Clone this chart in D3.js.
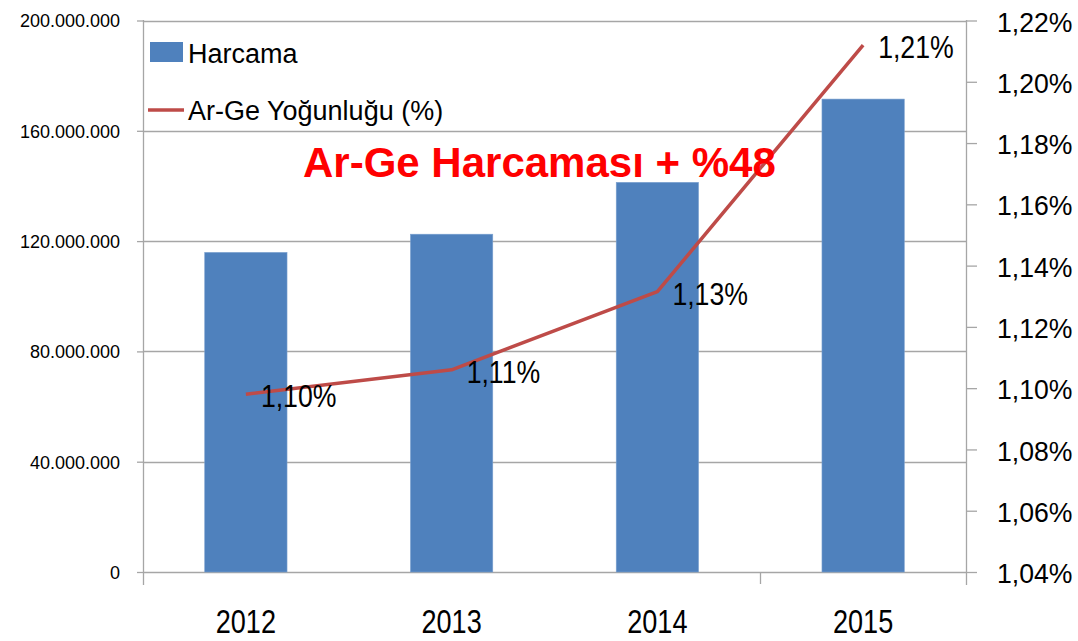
<!DOCTYPE html>
<html>
<head>
<meta charset="utf-8">
<script src="https://cdn.jsdelivr.net/npm/d3@7"></script>
<style>
  html, body { margin: 0; padding: 0; background: #ffffff; }
  svg { display: block; }
</style>
</head>
<body>
<svg id="chart" width="1078" height="641"></svg>
<script>
// ---- data ----
const years = ["2012", "2013", "2014", "2015"];
const harcama = [115900000, 122500000, 141300000, 171500000];
const yogunluk = [1.098, 1.106, 1.1315, 1.212];
const leftTicks = [0, 40000000, 80000000, 120000000, 160000000, 200000000];
const rightTicks = [1.04, 1.06, 1.08, 1.10, 1.12, 1.14, 1.16, 1.18, 1.20, 1.22];
const legendLabels = ["Harcama", "Ar-Ge Yoğunluğu (%)"];
const titleText = "Ar-Ge Harcaması + %48";

// ---- layout ----
const svg = d3.select("#chart");
const plot = { left: 143, right: 966, top: 20.5, bottom: 572 };
const barColor = "#4f81bd";
const lineColor = "#be4b48";
const gridColor = "#a6a6a6";
const FONT = "'Liberation Sans', Arial, sans-serif";

// horizontally condense text (Calibri-like narrow look)
function condense(sel, factor) {
  sel.each(function () {
    const w = this.getComputedTextLength();
    d3.select(this).attr("textLength", w * factor).attr("lengthAdjust", "spacingAndGlyphs");
  });
}

const x = d3.scaleBand().domain(years).range([plot.left, plot.right]).paddingInner(0.6).paddingOuter(0.3);
const yL = d3.scaleLinear().domain([0, 200000000]).range([plot.bottom, plot.top]);
const yR = d3.scaleLinear().domain([1.04, 1.22]).range([plot.bottom, plot.top]);

const fmtL = d => d3.format(",")(d).replace(/,/g, ".");
const fmtR = d => d3.format(".2f")(d).replace(".", ",") + "%";

// gridlines
svg.append("g").selectAll("line").data(leftTicks).join("line")
  .attr("x1", plot.left).attr("x2", plot.right)
  .attr("y1", d => Math.round(yL(d)) + 0.5).attr("y2", d => Math.round(yL(d)) + 0.5)
  .attr("stroke", gridColor).attr("stroke-width", 1.3);

// left axis
const leftAxis = svg.append("g").attr("transform", `translate(${plot.left},0)`)
  .call(d3.axisLeft(yL).tickValues(leftTicks).tickFormat(fmtL).tickSize(6).tickPadding(17));
leftAxis.select(".domain").remove();
leftAxis.selectAll(".tick line").attr("stroke", gridColor).attr("stroke-width", 1.3);
leftAxis.selectAll(".tick text")
  .attr("font-family", FONT)
  .attr("font-size", 18).attr("fill", "#000").attr("dy", "0.36em");
svg.append("line").attr("x1", plot.left + 0.5).attr("x2", plot.left + 0.5)
  .attr("y1", plot.top - 0.5).attr("y2", 585).attr("stroke", gridColor).attr("stroke-width", 1.3);

// right axis
const rightAxis = svg.append("g").attr("transform", `translate(${plot.right},0)`)
  .call(d3.axisRight(yR).tickValues(rightTicks).tickFormat(fmtR).tickSize(11).tickPadding(20));
rightAxis.select(".domain").remove();
rightAxis.selectAll(".tick line").attr("stroke", gridColor).attr("stroke-width", 1.3);
rightAxis.selectAll(".tick text")
  .attr("font-family", FONT)
  .attr("font-size", 28).attr("fill", "#000").attr("dy", "0.38em")
  .call(condense, 0.95);
svg.append("line").attr("x1", plot.right + 0.5).attr("x2", plot.right + 0.5)
  .attr("y1", plot.top - 0.5).attr("y2", 585).attr("stroke", gridColor).attr("stroke-width", 1.3);

// bottom axis: category boundary tick (only the one visible in the reference)
const step = x.step();
const boundaries = d3.range(years.length + 1).map(i => plot.left + i * step);
svg.append("g").selectAll("line").data([boundaries[3]]).join("line")
  .attr("x1", d => Math.round(d) + 0.5).attr("x2", d => Math.round(d) + 0.5)
  .attr("y1", plot.bottom).attr("y2", 584).attr("stroke", gridColor).attr("stroke-width", 1.3);
svg.append("g").selectAll("text").data(years).join("text")
  .attr("x", d => x(d) + x.bandwidth() / 2).attr("y", 633)
  .attr("text-anchor", "middle")
  .attr("font-family", FONT)
  .attr("font-size", 33).attr("fill", "#000").text(d => d)
  .call(condense, 0.82);

// bars
svg.append("g").selectAll("rect").data(years).join("rect")
  .attr("x", d => x(d)).attr("width", x.bandwidth())
  .attr("y", (d, i) => yL(harcama[i])).attr("height", (d, i) => yL(0) - yL(harcama[i]))
  .attr("fill", barColor).attr("stroke", "#7aa0cf").attr("stroke-width", 0.6);

// line
const pts = years.map((d, i) => [x(d) + x.bandwidth() / 2, yR(yogunluk[i])]);
svg.append("path").datum(pts)
  .attr("d", d3.line())
  .attr("fill", "none").attr("stroke", lineColor).attr("stroke-width", 3.5)
  .attr("stroke-linejoin", "round");

// data labels
svg.append("g").selectAll("text").data(pts).join("text")
  .attr("x", d => d[0] + 15).attr("y", d => d[1] + 13)
  .attr("font-family", FONT)
  .attr("font-size", 31).attr("fill", "#000")
  .text((d, i) => fmtR(yogunluk[i]))
  .call(condense, 0.86);

// legend
const lg = svg.append("g");
lg.append("rect").attr("x", 150).attr("y", 42).attr("width", 33).attr("height", 20).attr("fill", barColor);
lg.append("line").attr("x1", 148).attr("x2", 184).attr("y1", 110).attr("y2", 110)
  .attr("stroke", lineColor).attr("stroke-width", 3.5);
lg.selectAll("text").data(legendLabels).join("text")
  .attr("x", 188).attr("y", (d, i) => i === 0 ? 63 : 119.5)
  .attr("font-family", FONT)
  .attr("font-size", 27).attr("fill", "#000").text(d => d);

// title annotation
svg.append("text").attr("x", 303).attr("y", 177)
  .attr("font-family", FONT)
  .attr("font-weight", "bold").attr("font-size", 42).attr("fill", "#ff0000")
  .text(titleText);
</script>
</body>
</html>
